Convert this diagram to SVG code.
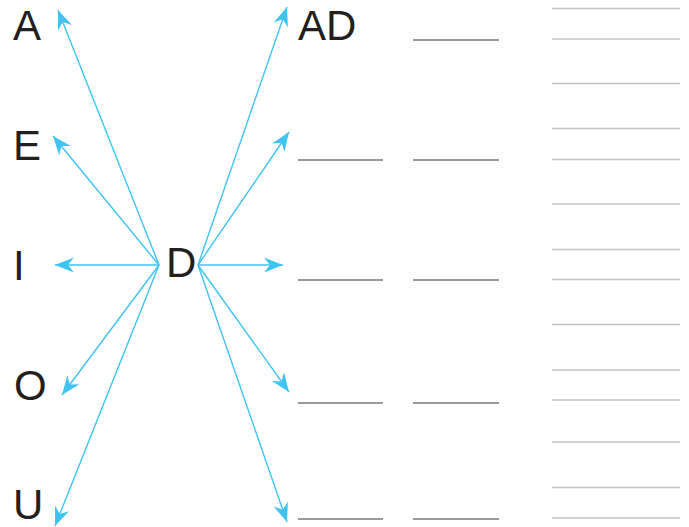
<svg xmlns="http://www.w3.org/2000/svg" width="689" height="527" viewBox="0 0 689 527">
<style>
.t{font-family:"Liberation Sans",Arial,sans-serif;font-size:42px;fill:#231f20}
.c{stroke:#3fc3f1;stroke-width:1.4;fill:none;marker-end:url(#ah)}
.b{stroke:#9a9a9a;stroke-width:2}
.r{stroke:#c4c4c4;stroke-width:1.4}
</style>
<defs>
<marker id="ah" markerUnits="userSpaceOnUse" markerWidth="26" markerHeight="24" viewBox="-22 -10 26 20" refX="0" refY="0" orient="auto">
<path d="M0,0 L-19,-7.5 L-13,0 L-19,7.5 Z" fill="#3fc3f1"/>
</marker>
</defs>
<rect width="689" height="527" fill="#fff"/>
<g id="node-A"><text class="t" x="13" y="40">A</text></g>
<g id="node-E"><text class="t" x="13" y="160">E</text></g>
<g id="node-I"><text class="t" x="13" y="280">I</text></g>
<g id="node-O"><text class="t" x="14" y="400">O</text></g>
<g id="node-U"><text class="t" x="13" y="519">U</text></g>
<g id="node-D"><text class="t" x="166" y="277">D</text></g>
<g id="node-AD"><text class="t" x="298" y="40">AD</text></g>
<g id="blanks">
<line class="b" x1="298" y1="160" x2="383" y2="160"/>
<line class="b" x1="298" y1="280" x2="383" y2="280"/>
<line class="b" x1="298" y1="403" x2="383" y2="403"/>
<line class="b" x1="298" y1="519" x2="383" y2="519"/>
<line class="b" x1="413" y1="40" x2="499" y2="40"/>
<line class="b" x1="413" y1="160" x2="499" y2="160"/>
<line class="b" x1="413" y1="280" x2="499" y2="280"/>
<line class="b" x1="413" y1="403" x2="499" y2="403"/>
<line class="b" x1="413" y1="519" x2="499" y2="519"/>
</g>
<g id="rules">
<line class="r" x1="552" y1="8.5" x2="680" y2="8.5"/>
<line class="r" x1="552" y1="39" x2="680" y2="39"/>
<line class="r" x1="552" y1="83.5" x2="680" y2="83.5"/>
<line class="r" x1="552" y1="128.5" x2="680" y2="128.5"/>
<line class="r" x1="552" y1="159.5" x2="680" y2="159.5"/>
<line class="r" x1="552" y1="204" x2="680" y2="204"/>
<line class="r" x1="552" y1="249.5" x2="680" y2="249.5"/>
<line class="r" x1="552" y1="279.5" x2="680" y2="279.5"/>
<line class="r" x1="552" y1="324.5" x2="680" y2="324.5"/>
<line class="r" x1="552" y1="370" x2="680" y2="370"/>
<line class="r" x1="552" y1="400" x2="680" y2="400"/>
<line class="r" x1="552" y1="442" x2="680" y2="442"/>
<line class="r" x1="552" y1="487.5" x2="680" y2="487.5"/>
<line class="r" x1="552" y1="518" x2="680" y2="518"/>
</g>
<g id="connectors">
<line class="c" x1="159" y1="265" x2="58" y2="10"/>
<line class="c" x1="159" y1="265" x2="53" y2="136"/>
<line class="c" x1="159" y1="265" x2="55" y2="265"/>
<line class="c" x1="159" y1="265" x2="62" y2="395"/>
<line class="c" x1="159" y1="265" x2="55" y2="526"/>
<line class="c" x1="198" y1="265" x2="287" y2="7"/>
<line class="c" x1="198" y1="265" x2="289" y2="132"/>
<line class="c" x1="198" y1="265" x2="283" y2="265"/>
<line class="c" x1="198" y1="265" x2="289" y2="392"/>
<line class="c" x1="198" y1="265" x2="287" y2="522"/>
</g>
</svg>
